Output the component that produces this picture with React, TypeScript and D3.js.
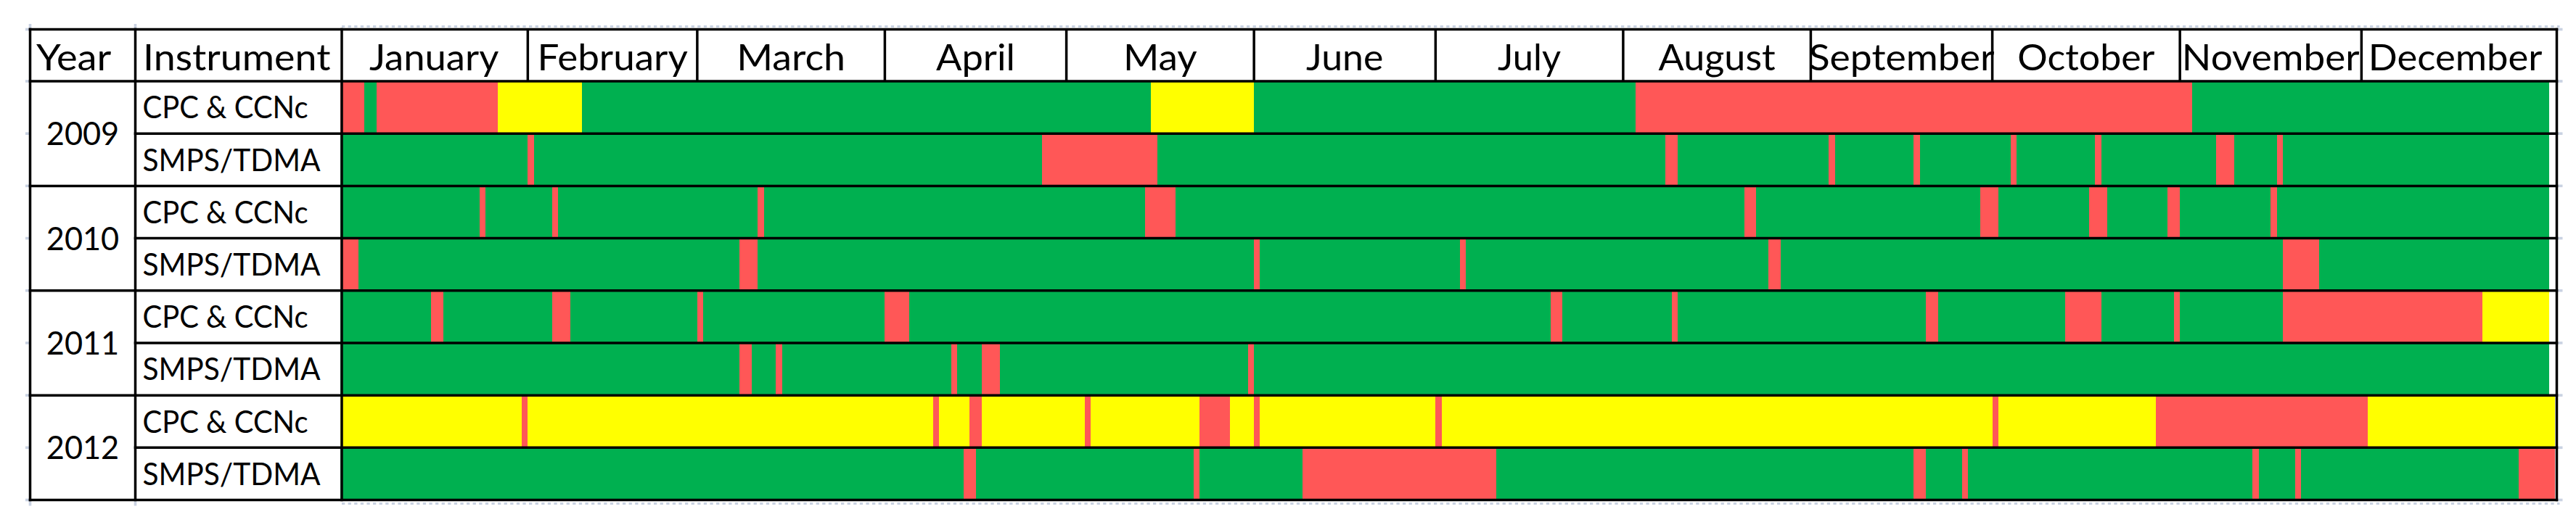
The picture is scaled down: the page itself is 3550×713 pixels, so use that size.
import React from 'react';
import * as d3 from 'd3';

type Status = 'G' | 'R' | 'Y';
type Run = [number, number, Status];

// ---------- data ----------
const months = ['January', 'February', 'March', 'April', 'May', 'June', 'July', 'August', 'September', 'October', 'November', 'December'];
const monthDays = [31, 28, 31, 30, 31, 30, 31, 31, 30, 31, 30, 31];
const years = ['2009', '2010', '2011', '2012'];
const yearDays = [365, 365, 365, 366];
const instruments = ['CPC & CCNc', 'SMPS/TDMA'];

// [startDay, endDay, status]  G = data OK, R = no data, Y = partial
const cpc2009: Run[] = [[0, 4, 'R'], [4, 6, 'G'], [6, 26, 'R'], [26, 40, 'Y'], [40, 134, 'G'], [134, 151, 'Y'], [151, 214, 'G'], [214, 306, 'R'], [306, 365, 'G']];
const smps2009: Run[] = [[0, 31, 'G'], [31, 32, 'R'], [32, 116, 'G'], [116, 135, 'R'], [135, 219, 'G'], [219, 221, 'R'], [221, 246, 'G'], [246, 247, 'R'], [247, 260, 'G'], [260, 261, 'R'], [261, 276, 'G'], [276, 277, 'R'], [277, 290, 'G'], [290, 291, 'R'], [291, 310, 'G'], [310, 313, 'R'], [313, 320, 'G'], [320, 321, 'R'], [321, 365, 'G']];
const cpc2010: Run[] = [[0, 23, 'G'], [23, 24, 'R'], [24, 35, 'G'], [35, 36, 'R'], [36, 69, 'G'], [69, 70, 'R'], [70, 133, 'G'], [133, 138, 'R'], [138, 232, 'G'], [232, 234, 'R'], [234, 271, 'G'], [271, 274, 'R'], [274, 289, 'G'], [289, 292, 'R'], [292, 302, 'G'], [302, 304, 'R'], [304, 319, 'G'], [319, 320, 'R'], [320, 365, 'G']];
const smps2010: Run[] = [[0, 3, 'R'], [3, 66, 'G'], [66, 69, 'R'], [69, 151, 'G'], [151, 152, 'R'], [152, 185, 'G'], [185, 186, 'R'], [186, 236, 'G'], [236, 238, 'R'], [238, 321, 'G'], [321, 327, 'R'], [327, 365, 'G']];
const cpc2011: Run[] = [[0, 15, 'G'], [15, 17, 'R'], [17, 35, 'G'], [35, 38, 'R'], [38, 59, 'G'], [59, 60, 'R'], [60, 90, 'G'], [90, 94, 'R'], [94, 200, 'G'], [200, 202, 'R'], [202, 220, 'G'], [220, 221, 'R'], [221, 262, 'G'], [262, 264, 'R'], [264, 285, 'G'], [285, 291, 'R'], [291, 303, 'G'], [303, 304, 'R'], [304, 321, 'G'], [321, 354, 'R'], [354, 365, 'Y']];
const smps2011: Run[] = [[0, 66, 'G'], [66, 68, 'R'], [68, 72, 'G'], [72, 73, 'R'], [73, 101, 'G'], [101, 102, 'R'], [102, 106, 'G'], [106, 109, 'R'], [109, 150, 'G'], [150, 151, 'R'], [151, 365, 'G']];
const cpc2012: Run[] = [[0, 30, 'Y'], [30, 31, 'R'], [31, 98, 'Y'], [98, 99, 'R'], [99, 104, 'Y'], [104, 106, 'R'], [106, 123, 'Y'], [123, 124, 'R'], [124, 142, 'Y'], [142, 147, 'R'], [147, 151, 'Y'], [151, 152, 'R'], [152, 181, 'Y'], [181, 182, 'R'], [182, 273, 'Y'], [273, 274, 'R'], [274, 300, 'Y'], [300, 335, 'R'], [335, 366, 'Y']];
const smps2012: Run[] = [[0, 103, 'G'], [103, 105, 'R'], [105, 141, 'G'], [141, 142, 'R'], [142, 159, 'G'], [159, 191, 'R'], [191, 260, 'G'], [260, 262, 'R'], [262, 268, 'G'], [268, 269, 'R'], [269, 316, 'G'], [316, 317, 'R'], [317, 323, 'G'], [323, 324, 'R'], [324, 360, 'G'], [360, 366, 'R']];

const rowRuns: Run[][] = [cpc2009, smps2009, cpc2010, smps2010, cpc2011, smps2011, cpc2012, smps2012];

// ---------- styling ----------
const COLORS: Record<Status, string> = { G: '#00B050', R: '#FF5757', Y: '#FFFF00' };
const FONT = 'Lato, Calibri, "Open Sans", sans-serif';
const GRID = '#C9D2E2';

// Calibri advance widths (em), used to give the substitute font Calibri's text widths
const CAL: Record<string, number> = {
  ' ': 0.226, '&': 0.682, '/': 0.386, '0': 0.507, '1': 0.507, '2': 0.507, '9': 0.507,
  A: 0.579, C: 0.533, D: 0.615, F: 0.459, I: 0.252, J: 0.319, M: 0.855, N: 0.646, O: 0.662, P: 0.517, S: 0.459, T: 0.487, Y: 0.487,
  a: 0.479, b: 0.525, c: 0.423, e: 0.498, g: 0.471, h: 0.525, i: 0.229, l: 0.229, m: 0.799, n: 0.525, o: 0.527, p: 0.525,
  r: 0.349, s: 0.391, t: 0.335, u: 0.525, v: 0.452, y: 0.453,
};
const calWidth = (s: string, size: number) => s.split('').reduce((a, c) => a + (CAL[c] ?? 0.5), 0) * size;

const W = 3550, H = 713;
const L = 41.5, YC = 186.5, IC = 471, R = 3523.5;
const TOP = 40.5, HB = 112, BOT = 689.5;
const LW = 3.5;

export default function App() {
  const x = d3.scaleLinear().domain([0, 366]).range([468.8, 468.8 + 366 * 8.34]);
  const rowIds = d3.range(rowRuns.length).map(String);
  const y = d3.scaleBand<string>().domain(rowIds).range([HB, BOT]).padding(0);
  const rh = y.bandwidth();
  const cum = d3.cumsum(monthDays);
  const starts = [0, ...Array.from(cum).slice(0, -1)];

  const hLines: { x1: number; x2: number; y: number }[] = [];
  hLines.push({ x1: L, x2: R, y: TOP });
  hLines.push({ x1: L, x2: R, y: HB });
  rowIds.forEach((id, i) => {
    if (i === 0) return;
    hLines.push({ x1: i % 2 === 1 ? YC : L, x2: R, y: y(id)! });
  });
  hLines.push({ x1: L, x2: R, y: BOT });

  const stubYs = hLines.filter((l) => l.x1 === L || true).map((l) => l.y);

  return (
    <svg width={W} height={H} style={{ position: 'absolute', left: 0, top: 0, background: '#fff' }} xmlns="http://www.w3.org/2000/svg">
      <rect x={0} y={0} width={W} height={H} fill="#fff" />

      {/* data cells */}
      {rowRuns.map((runs, i) => (
        <g key={i}>
          {runs.map(([s, e, st], j) => (
            <rect key={j} x={x(s)} y={y(String(i))!} width={x(e) - x(s)} height={rh} fill={COLORS[st]} shapeRendering="crispEdges" />
          ))}
        </g>
      ))}

      {/* header text */}
      <text x={50} y={96.7} fontFamily={FONT} fontSize={51} textLength={calWidth('Year', 57)} lengthAdjust="spacingAndGlyphs" fill="#000">Year</text>
      <text x={197} y={96.7} fontFamily={FONT} fontSize={51} textLength={calWidth('Instrument', 57)} lengthAdjust="spacingAndGlyphs" fill="#000">Instrument</text>
      {months.map((m, i) => (
        <text key={m} x={(x(starts[i]) + x(cum[i])) / 2} y={96.7} textAnchor="middle" fontFamily={FONT} fontSize={51}
          textLength={calWidth(m, 57)} lengthAdjust="spacingAndGlyphs" fill="#000">{m}</text>
      ))}

      {/* year labels */}
      {years.map((yr, k) => {
        const top = y(String(k * 2))!;
        const cy = top + rh;
        return (
          <text key={yr} x={(L + YC) / 2} y={cy + 16} textAnchor="middle" fontFamily={FONT} fontSize={44}
            textLength={calWidth(yr, 49.5)} lengthAdjust="spacingAndGlyphs" fill="#000">{yr}</text>
        );
      })}

      {/* instrument labels */}
      {rowIds.map((id, i) => {
        const lab = instruments[i % 2];
        return (
          <text key={id} x={196.5} y={y(id)! + rh / 2 + 15.3} fontFamily={FONT} fontSize={42}
            textLength={calWidth(lab, 47)} lengthAdjust="spacingAndGlyphs" fill="#000">{lab}</text>
        );
      })}

      {/* grid stubs (sheet gridlines) */}
      <line x1={IC} x2={R + 4} y1={36.5} y2={36.5} stroke={GRID} strokeWidth={3} strokeDasharray="4.3 4.3" />
      <line x1={IC} x2={R + 4} y1={694.5} y2={694.5} stroke={GRID} strokeWidth={3} strokeDasharray="4.3 4.3" />
      {stubYs.map((yy, i) => (
        <g key={i}>
          <rect x={35} y={yy - 1.8} width={6} height={3.6} fill={GRID} />
          <rect x={R + 2} y={yy - 1.8} width={6} height={3.6} fill={GRID} />
        </g>
      ))}
      {[L, YC].map((xx, i) => (
        <g key={i}>
          <rect x={xx - 1.8} y={33} width={3.6} height={6} fill={GRID} />
          <rect x={xx - 1.8} y={BOT + 2} width={3.6} height={6} fill={GRID} />
        </g>
      ))}

      {/* borders */}
      {hLines.map((l, i) => (
        <line key={i} x1={l.x1} x2={l.x2} y1={l.y} y2={l.y} stroke="#000" strokeWidth={LW} strokeLinecap="square" />
      ))}
      {[L, YC, IC, R].map((xx, i) => (
        <line key={i} x1={xx} x2={xx} y1={TOP} y2={BOT} stroke="#000" strokeWidth={LW} strokeLinecap="square" />
      ))}
      {Array.from(cum).slice(0, -1).map((d, i) => (
        <line key={i} x1={x(d)} x2={x(d)} y1={TOP} y2={HB} stroke="#000" strokeWidth={LW} />
      ))}
    </svg>
  );
}
